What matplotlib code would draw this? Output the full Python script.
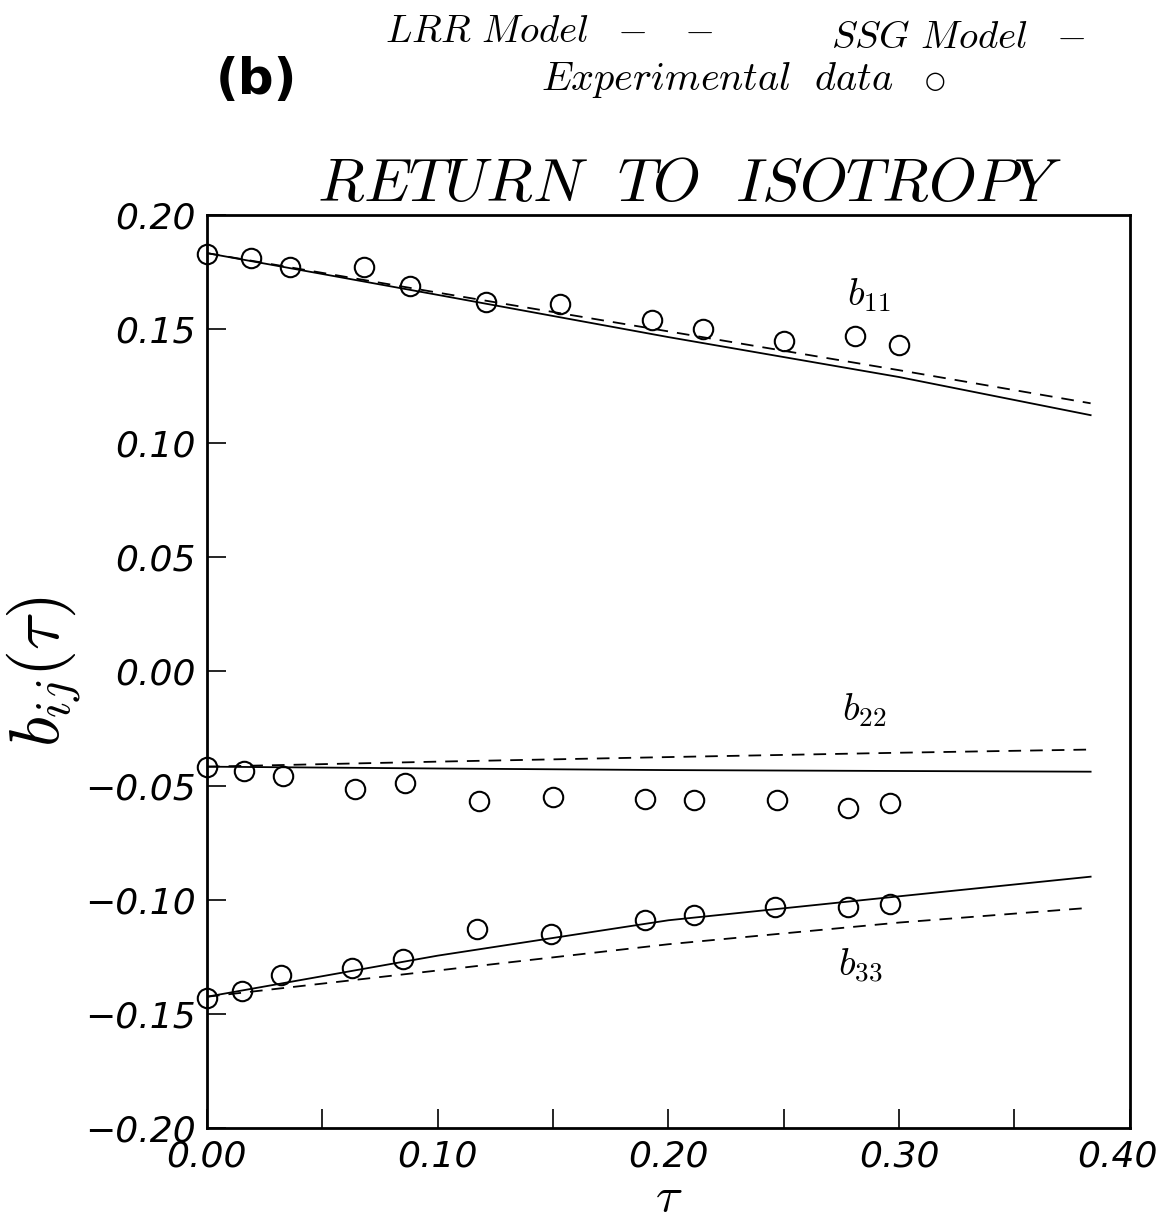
import matplotlib
matplotlib.use("Agg")
import matplotlib.pyplot as plt
from matplotlib.ticker import MultipleLocator, FuncFormatter

plt.rcParams['mathtext.fontset'] = 'cm'

tau_b11 = [0.000, 0.019, 0.036, 0.068, 0.088, 0.121, 0.153, 0.193, 0.215, 0.250, 0.281, 0.300]
exp_b11 = [0.183, 0.181, 0.177, 0.177, 0.169, 0.162, 0.161, 0.154, 0.150, 0.145, 0.147, 0.143]

tau_b22 = [0.000, 0.016, 0.033, 0.064, 0.086, 0.118, 0.150, 0.190, 0.211, 0.247, 0.278, 0.296]
exp_b22 = [-0.0417, -0.0434, -0.0460, -0.0513, -0.0490, -0.0566, -0.0548, -0.0557, -0.0561, -0.0561, -0.0596, -0.0575]

tau_b33 = [0.000, 0.015, 0.032, 0.063, 0.085, 0.117, 0.149, 0.190, 0.211, 0.246, 0.278, 0.296]
exp_b33 = [-0.143, -0.140, -0.133, -0.130, -0.126, -0.113, -0.115, -0.109, -0.1066, -0.103, -0.103, -0.102]

# model curves
tau_model = [0.0, 0.1, 0.2, 0.3, 0.383]
ssg_b11 = [0.1833, 0.1650, 0.1465, 0.1290, 0.1123]
lrr_b11 = [0.1833, 0.1660, 0.1490, 0.1320, 0.1175]
ssg_b22 = [-0.0417, -0.0425, -0.0432, -0.0436, -0.0439]
lrr_b22 = [-0.0417, -0.0395, -0.0375, -0.0356, -0.0342]
ssg_b33 = [-0.1425, -0.1245, -0.1090, -0.0985, -0.0899]
lrr_b33 = [-0.1425, -0.1310, -0.1195, -0.1100, -0.1035]

fig = plt.figure(figsize=(11.6, 12.25), dpi=100)
ax = fig.add_axes([0.1784, 0.0792, 0.7956, 0.7453])

for ssg, lrr in [(ssg_b11, lrr_b11), (ssg_b22, lrr_b22), (ssg_b33, lrr_b33)]:
    ax.plot(tau_model, ssg, color='black', lw=1.3)
    ax.plot(tau_model, lrr, color='black', lw=1.3, dashes=(7, 5))

for t, v in [(tau_b11, exp_b11), (tau_b22, exp_b22), (tau_b33, exp_b33)]:
    ax.plot(t, v, 'o', mfc='none', mec='black', ms=14, mew=1.5, clip_on=False)


def tick_fmt(v, p):
    # the 0.40 label is drawn by hand below so it stays inside the figure
    if abs(v - 0.40) < 1e-9 and p is not None and ax.xaxis.get_major_formatter() is xfmt:
        return ''
    return ('%.2f' % v).replace('-', '\u2212')


xfmt = FuncFormatter(tick_fmt)
yfmt = FuncFormatter(lambda v, p: ('%.2f' % v).replace('-', '\u2212'))
ax.set_xlim(0, 0.40)
ax.set_ylim(-0.20, 0.20)
ax.xaxis.set_major_locator(MultipleLocator(0.10))
ax.xaxis.set_minor_locator(MultipleLocator(0.05))
ax.yaxis.set_major_locator(MultipleLocator(0.05))
ax.xaxis.set_major_formatter(xfmt)
ax.yaxis.set_major_formatter(yfmt)
ax.tick_params(which='both', direction='in', width=1.2, top=False, right=False)
ax.tick_params(which='major', length=14, labelsize=26, pad=8)
ax.tick_params(which='minor', length=14)
fig.canvas.draw()
for lab in ax.get_xticklabels() + ax.get_yticklabels():
    lab.set_fontstyle('italic')
    lab.set_family('DejaVu Sans')
ax.annotate('0.40', xy=(0.40, 0), xycoords=('data', 'axes fraction'),
            xytext=(-9, -8), textcoords='offset points', ha='center', va='top',
            fontsize=26, style='italic', family='DejaVu Sans')
for sp in ax.spines.values():
    sp.set_linewidth(2)

# curve labels
ax.text(0.287, 0.165, r'$b_{11}$', fontsize=28, ha='center', va='center')
ax.text(0.285, -0.017, r'$b_{22}$', fontsize=28, ha='center', va='center')
ax.text(0.283, -0.129, r'$b_{33}$', fontsize=28, ha='center', va='center')

ax.set_ylabel(r'$b_{ij}(\tau)$', fontsize=50, labelpad=0)
ax.set_xlabel(r'$\tau$', fontsize=36, labelpad=0)

fig.text(0.595, 0.849, r'$\mathit{RETURN\ \ TO\ \ ISOTROPY}$', fontsize=44,
         ha='center', va='center')

fig.text(0.332, 0.975, r'$\mathit{LRR\ Model}\ \ -\ \ -$', fontsize=28,
         ha='left', va='center')
fig.text(0.716, 0.970, r'$\mathit{SSG\ Model}\ \ -$', fontsize=28,
         ha='left', va='center')
fig.text(0.466, 0.935, r'$\mathit{Experimental\ \ data}$', fontsize=29,
         ha='left', va='center')
fig.text(0.806, 0.934, '○', fontsize=17, family='DejaVu Sans',
         ha='center', va='center')
fig.text(0.186, 0.935, '(b)', fontsize=36, fontweight='bold', family='DejaVu Sans',
         ha='left', va='center')

fig.savefig('out.png', dpi=100, facecolor='white')
